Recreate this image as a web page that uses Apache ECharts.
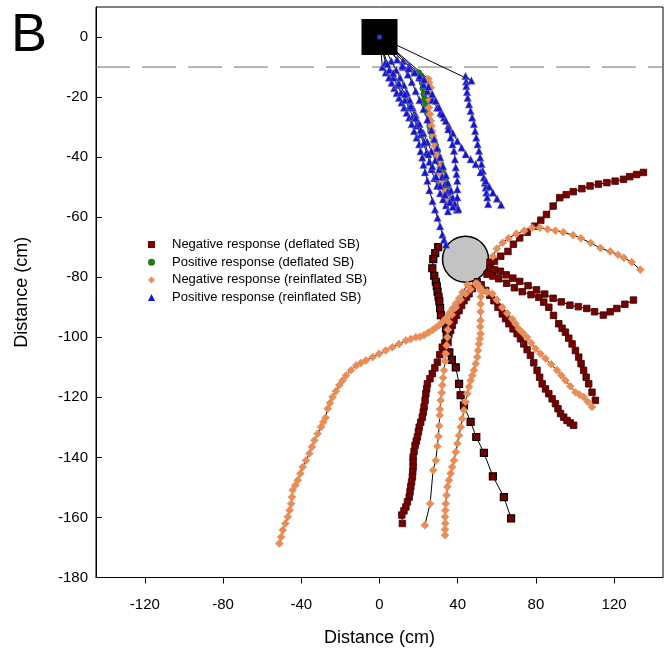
<!DOCTYPE html>
<html>
<head>
<meta charset="utf-8">
<script src="https://cdn.jsdelivr.net/npm/echarts@6/dist/echarts.min.js"></script>
<style>
html,body{margin:0;padding:0;background:#fff;}
#chart{width:666px;height:658px;}
</style>
</head>
<body>
<div id="chart"></div>
<script>
// ---- axis ticks ----
const xTicks = [-120, -80, -40, 0, 40, 80, 120];
const yTicks = [0, -20, -40, -60, -80, -100, -120, -140, -160, -180];

// ---- reference objects ----
const startBox = [[0, 0]];
const sphere = [[44, -74]];
const thresholdLine = [[-145, -10], [145, -10]];

// ---- Negative response (deflated SB) ----
const negDef1 = [[56.5,-75],[58.8,-74.7],[62,-73],[65.7,-71.4],[68.5,-69],[71.7,-66.9],[75.5,-65],[79.4,-63],[82.5,-61],[85.4,-59.1],[88.8,-56.3],[92.2,-53.5],[95.5,-52.5],[99.1,-51.5],[103.5,-50.5],[107.7,-49.6],[112,-49],[116.3,-48.5],[120.5,-48],[124.8,-47.4],[128,-46.5],[131.5,-45.8],[135,-45.1]];
const negDef2 = [[56.5,-77],[58.8,-77.5],[61.8,-78],[64.8,-79.2],[68.2,-80.3],[71.7,-81.4],[76,-82.8],[80.3,-84.2],[84.5,-85.6],[88.8,-87],[93,-88.2],[97.4,-89.3],[101.7,-89.8],[106,-90.4],[110,-91.5],[114.5,-92.6],[118,-91.5],[121.4,-90.4],[125.5,-89],[129.9,-87.6]];
const negDef3 = [[55,-79],[58,-79.6],[61,-80.5],[65,-82],[69,-83.5],[73,-84.8],[77.5,-85.8],[81.5,-86.7],[84,-88.3],[86.6,-90],[89,-92.7],[91.7,-95.5],[93.4,-97],[95.1,-98.3],[96.8,-100.3],[98.5,-102.2],[100.2,-104.4],[101.9,-106.6],[103.1,-108.8],[104.4,-111],[105.7,-113.3],[107,-115.5],[108.7,-118.3],[110.4,-121]];
const negDef4 = [[50,-81.5],[52,-82.5],[54.3,-84.4],[56.4,-86],[58.5,-87.8],[60.6,-90],[62.8,-92.2],[64.5,-93.8],[66.2,-95.5],[68.3,-97.2],[70.4,-98.8],[72.1,-100.5],[73.8,-102.2],[75.5,-104.1],[77.2,-106],[78.9,-108.5],[80.6,-111],[81.9,-113.3],[83.2,-115.5],[84.9,-117.2],[86.6,-118.8],[88.3,-120.5],[90,-122.1],[91.3,-123.8],[92.6,-125.4],[94.2,-126.6],[95.9,-127.7],[97.6,-128.5],[99.3,-129.3]];
const negDef5 = [[30,-70],[28.5,-72],[27.5,-74],[27,-77],[28,-79.5],[28.8,-81.5],[29.3,-83],[29.7,-84.8],[30.2,-86.5],[30.6,-88],[31,-90.3],[31.4,-92.6],[33,-95],[34,-97],[34.4,-99.3],[34.8,-101.6],[35.7,-105],[37,-107.5],[39,-110],[40.7,-115.5],[41.5,-119.3],[43.2,-122.7],[46.6,-128.2],[49.5,-133.2],[53.4,-138.5],[58,-146.3],[63.6,-153.2],[67.3,-160.3]];
const negDef6 = [[49.2,-82.2],[47.5,-83.8],[45.8,-85.5],[44.5,-86.6],[43.2,-87.8],[42,-89.4],[40.7,-91.1],[39.4,-92.7],[38.1,-94.4],[37.2,-96],[36.4,-97.7],[35.5,-99.1],[34.7,-100.5],[33.4,-101.9],[32.1,-103.3],[30.8,-105.8],[29.6,-108.3],[28.3,-110.2],[27,-112.1],[25.8,-113.8],[24.5,-115.5],[24.1,-117.2],[23.7,-118.8],[23.3,-121],[22.8,-123.2],[22.4,-124.9],[21.9,-126.6],[21.1,-128.3],[20.3,-129.9],[19.9,-131.5],[19.4,-133.2],[18.8,-134.6],[18.2,-136],[17.7,-138],[17.2,-139.9],[17.2,-141.5],[17.2,-143.2],[17,-144.8],[16.8,-146.5],[16.4,-148.2],[16,-149.8],[15.6,-151.5],[15.2,-153.2],[14.3,-154.8],[13.5,-156.5],[12.5,-157.8],[11.4,-159.2],[11.7,-162]];

// ---- Positive response (deflated SB) ----
const posDef1 = [[0,0],[20,-12],[21.1,-13],[21.5,-14.2],[21.9,-15.2],[22.3,-17.1],[22.8,-19],[23.2,-20.7],[23.7,-22.4],[24.5,-25.2],[25.4,-27.9],[25.8,-29.6],[26.2,-31.3],[27,-33],[27.9,-34.6],[28.8,-36.3],[29.6,-37.9],[30.4,-40.1],[31.3,-42.3],[32.1,-44.5],[33,-46.8],[33.4,-48.5],[33.9,-50.1],[34.3,-52]];

// ---- Negative response (reinflated SB) ----
const negRein1 = [[0,0],[25,-14],[25.4,-15.2],[26.2,-16.9],[25.8,-18.8],[25.6,-21],[25.4,-23.5],[25.8,-25.7],[26.2,-27.9],[26.6,-29.6],[27,-31.3],[27.4,-33],[27.9,-34.6],[28.4,-36.3],[28.8,-37.9],[29.6,-39.6],[30.5,-41.2],[30.9,-43.4],[31.3,-45.6],[32.1,-47.9],[33,-50.1],[33.4,-51.8],[33.9,-53.4],[34.3,-54.5],[34.7,-55.6]];
const negRein2 = [[45,-82.5],[42.5,-85],[40.8,-87],[39,-88.8],[37.4,-90.4],[35.7,-92],[34,-93.7],[32.3,-94.8],[30.6,-95.9],[28.8,-96.8],[27.1,-97.6],[25,-98.4],[22.8,-99.3],[20.7,-99.8],[18.6,-100],[16,-100.6],[13.5,-101.1],[10,-102.2],[6.6,-103.3],[3.2,-104.4],[-0.2,-105.5],[-3.5,-106.6],[-6.9,-107.7],[-9.5,-108.6],[-12,-109.4],[-14.6,-111],[-17.1,-112.7],[-18.9,-114.4],[-20.6,-116],[-22.3,-118],[-24,-119.9],[-25.3,-121.9],[-26.5,-123.8],[-27.6,-126.8],[-28.8,-128.3],[-29.9,-129.9],[-31.6,-132.1],[-33.3,-134.3],[-34.6,-136.5],[-35.9,-138.7],[-37.6,-141],[-39.3,-143.2],[-40.5,-145.4],[-41.8,-147.6],[-43.1,-149.3],[-44.4,-150.9],[-44.8,-153.2],[-45.2,-155.4],[-46,-157.6],[-46.9,-159.8],[-48.2,-162],[-49.5,-164.2],[-50.3,-166.5],[-51.2,-168.7]];
const negRein3 = [[50,-82.2],[51.2,-83.3],[51.7,-84.4],[51.8,-86.5],[51.7,-88.9],[51.7,-91.5],[51.7,-94.4],[51.5,-96.5],[51.7,-98.8],[51.3,-100.5],[50.9,-102.2],[50.4,-104.4],[50,-106.6],[49.2,-108.8],[48.3,-111],[47.4,-112.7],[46.6,-114.4],[45.8,-116.5],[44.9,-118.8],[44,-121.5],[43.2,-124.3],[42.3,-127.1],[41.5,-129.9],[40.7,-132.7],[39.8,-135.4],[39,-138.2],[38.1,-141],[37.2,-143.2],[36.4,-145.4],[35.5,-147.6],[34.7,-149.8],[34.3,-152.6],[33.9,-155.4],[33.7,-157.6],[33.5,-159.8],[33.6,-162],[33.5,-164],[33.5,-165.9]];
const negRein4 = [[49.2,-82.2],[46.5,-84],[44.1,-85.5],[41.5,-87.5],[39,-90],[37,-92.5],[35.5,-95],[35,-97.5],[34.7,-100],[34.3,-102.7],[33.9,-105.5],[33.5,-108],[33,-111],[32.5,-113.5],[32.1,-116],[31.8,-118.5],[31.3,-121],[30.9,-124],[30.8,-126],[30.5,-129.5],[30.1,-133],[29.6,-136.3],[28.8,-141],[27.4,-144.3],[25.9,-155.4],[23.2,-162.6]];
const negRein5 = [[49.2,-82.2],[50.9,-83.3],[52.6,-84.4],[55,-85],[57.7,-85.5],[60,-87.5],[62.8,-90],[65.3,-92],[67.9,-93.9],[69.6,-95.5],[71.3,-97.2],[73.4,-98.6],[75.5,-100],[77.6,-101.9],[79.8,-103.8],[82.3,-105.5],[84.9,-107.1],[87.8,-109],[90.8,-111],[93,-112.7],[95.1,-114.4],[97.6,-116.3],[100.2,-118.3],[102.3,-119.1],[104.4,-119.9],[106.5,-121.5],[108.7,-123.2]];
const negRein6 = [[58,-73],[60,-70.5],[63,-68.5],[66,-67],[70,-65.5],[74,-64.5],[78,-63.5],[82,-63.5],[86,-64],[90,-64.5],[94,-65],[99,-66],[103,-67],[108,-68.6],[113,-70.3],[118,-71.4],[122,-72.5],[125,-73.5],[129,-75],[133.4,-77.5]];

// ---- Positive response (reinflated SB) ----
const posRein1 = [[0,0],[47,-14.5],[44,-13],[44.3,-14.8],[44.4,-16.3],[44.8,-18.3],[45.1,-20.2],[45.8,-22.4],[46.6,-24.6],[47.4,-26.8],[48.3,-29],[48.9,-31.3],[49.5,-33.5],[50.2,-35.7],[50.9,-37.9],[51.5,-40.1],[52.2,-42.3],[52.8,-44.5],[53.4,-46.8],[53.9,-48.5],[54.3,-50.1],[54.7,-51.8],[55.1,-53.4],[55.6,-55.6]];
const posRein2 = [[0,0],[12,-8],[15.2,-9.6],[17.8,-11.5],[20.3,-13.5],[22.5,-15.8],[24.5,-18],[27,-21],[29.5,-23.5],[31.2,-25.2],[33,-26.8],[35.3,-29.5],[37.5,-32],[39.8,-34.6],[42,-36.8],[44.1,-39],[46.6,-40.7],[49.2,-42.3],[51.7,-45],[54.3,-47.9],[56.1,-49.8],[58,-51.8],[60.1,-53.8],[62.2,-55.9]];
const posRein3 = [[0,0],[1.5,-10],[3.2,-11.8],[4.9,-13.5],[6.2,-15.2],[7.5,-17],[8.8,-18.6],[10,-20.2],[11.3,-21.8],[12.6,-23.5],[13.9,-25.2],[15.2,-26.8],[16.5,-29],[17.7,-31.3],[19,-33.5],[20.3,-35.7],[21,-38],[21.9,-40.1],[22.5,-42.5],[23.3,-45],[24.5,-47.9],[25.5,-51],[27.1,-54.6],[28.4,-57.4],[29.7,-60.2],[31,-63],[32.2,-65.8],[33,-67.5],[34,-69.1]];
const posRein4 = [[0,0],[3,-8.5],[5,-11],[7,-13.5],[9,-16],[11,-18.5],[13,-21],[15,-23.5],[17,-26.5],[19,-29.5],[21,-32.5],[22.5,-35.5],[24,-38.5],[25.5,-41.5],[26.5,-44],[28,-47],[29.5,-49.5],[31,-52],[32.5,-54],[34,-56],[35,-58]];
const posRein5 = [[0,0],[6,-8],[8.5,-11],[10.5,-13.5],[12.5,-16],[14,-18.5],[15.5,-21],[17,-23.5],[18.5,-26],[20.5,-29],[22.5,-32],[24.5,-35],[26.5,-38],[28.5,-41],[30.5,-44],[32,-46.5],[33.5,-49],[35,-51.5],[36.5,-54],[38,-56],[39.5,-57.5]];
const posRein6 = [[0,0],[9,-7.5],[12,-10],[14.5,-12.5],[16.5,-15],[18.5,-18],[20.5,-21],[22.5,-24],[24.5,-27.5],[26.5,-31],[28,-34],[29.5,-37],[31,-40],[32.5,-43],[34,-46],[35,-48.5],[36.5,-51],[37.5,-53.5],[38.5,-55.5],[40,-57]];
const posRein7 = [[0,0],[11.7,-9.6],[15,-10.5],[18,-11.8],[20.5,-13],[22.8,-14.1],[25,-16.5],[27,-19],[28.8,-21.2],[30.5,-23.5],[32.2,-25.7],[33.9,-27.9],[35.2,-30.7],[36.4,-33.5],[37.3,-35.7],[38.1,-37.9],[38.6,-40.7],[39,-43.4],[39.4,-45.6],[39.8,-47.9],[39.8,-50.7],[39.8,-53.4],[40.3,-57.3]];
const posRein8 = [[0,0],[4,-9],[7,-12],[10,-15.5],[13,-19],[16,-23],[18.5,-27],[21,-31],[23,-35],[25,-39],[27,-43],[29,-46.5],[31,-49.5],[33.5,-52.5],[36,-55],[37.5,-56.5]];

const seriesNames = [
  'Negative response (deflated SB)',
  'Positive response (deflated SB)',
  'Negative response (reinflated SB)',
  'Positive response (reinflated SB)'
];

const FONT = 'Liberation Sans, Arial, sans-serif';

function track(name, data, symbol, size, color, border, borderW) {
  return {
    type: 'line', name: name, data: data,
    symbol: symbol, symbolSize: size, showAllSymbol: true,
    lineStyle: { color: '#000', width: 1, opacity: 1 },
    itemStyle: { color: color, borderColor: border, borderWidth: borderW, opacity: 1 },
    emphasis: { disabled: true }, silent: true, animation: false, z: 3
  };
}

const DR = '#7a0000', GR = '#1d7d1d', OR = '#f4894b', BL = '#1414d8';

const series = [
  { type: 'line', name: 'threshold', data: thresholdLine, symbol: 'none', silent: true,
    lineStyle: { color: '#6e6e6e', width: 1, type: [34, 12] }, z: 1 },
  { type: 'scatter', name: 'sphere', data: sphere, symbol: 'circle', symbolSize: 46, silent: true,
    itemStyle: { color: '#c3c3c3', borderColor: '#000', borderWidth: 1.5, opacity: 1 }, z: 2 }
];
[negDef1, negDef2, negDef3, negDef4, negDef6].forEach(d => series.push(track(seriesNames[0], d, 'rect', 6.5, DR, '#3a0000', 0.8)));
series.push(track(seriesNames[0], negDef5, 'rect', 7, DR, '#000', 1.2));
[posDef1].forEach(d => series.push(track(seriesNames[1], d, 'circle', 6.5, GR, '#0c4d0c', 0.5)));
[negRein1, negRein2, negRein3, negRein4, negRein5, negRein6].forEach(d => series.push(track(seriesNames[2], d, 'diamond', 8, OR, '#b9a58f', 0.6)));
[posRein1, posRein2, posRein3, posRein4, posRein5, posRein6, posRein7, posRein8].forEach(d => series.push(track(seriesNames[3], d, 'triangle', 7.5, BL, '#8080a0', 0.5)));
series.push({ type: 'scatter', name: 'start', data: startBox, symbol: 'rect', symbolSize: 36, silent: true,
  itemStyle: { color: '#000', opacity: 1 }, z: 5 });
series.push({ type: 'scatter', name: 'startDot', data: startBox, symbol: 'circle', symbolSize: 5, silent: true,
  itemStyle: { color: '#2040e0', borderColor: '#103060', borderWidth: 0.5, opacity: 1 }, z: 6 });

const chart = echarts.init(document.getElementById('chart'), null, { renderer: 'canvas' });
chart.setOption({
  animation: false,
  backgroundColor: '#fff',
  textStyle: { fontFamily: FONT },
  graphic: [{ type: 'text', left: 11, top: 9, style: { text: 'B', font: '54px ' + FONT, fill: '#000' } }],
  legend: {
    left: 143, top: 233, orient: 'vertical', itemGap: 4.7, itemWidth: 7, itemHeight: 7,
    selectedMode: false,
    itemStyle: { borderWidth: 0, opacity: 1 },
    textStyle: { fontFamily: FONT, fontSize: 13, color: '#000', padding: [0, 0, 0, 12] },
    data: [
      { name: seriesNames[0], icon: 'rect' },
      { name: seriesNames[1], icon: 'circle' },
      { name: seriesNames[2], icon: 'diamond' },
      { name: seriesNames[3], icon: 'triangle' }
    ]
  },
  grid: { left: 96, right: 3, top: 7, bottom: 80.5, containLabel: false, outerBoundsMode: 'none',
    show: true, borderColor: '#000', borderWidth: 1, backgroundColor: 'transparent' },
  xAxis: {
    type: 'value', min: -145, max: 145,
    name: 'Distance (cm)', nameLocation: 'middle', nameGap: 52,
    nameTextStyle: { fontFamily: FONT, fontSize: 18, color: '#000' },
    axisLine: { show: true, onZero: false, lineStyle: { color: '#000', width: 1 } },
    axisTick: { show: true, inside: false, length: 6, customValues: xTicks, lineStyle: { color: '#000' } },
    axisLabel: { customValues: xTicks, margin: 20, fontFamily: FONT, fontSize: 15, color: '#000' },
    splitLine: { show: false }
  },
  yAxis: {
    type: 'value', min: -180, max: 10,
    name: 'Distance (cm)', nameLocation: 'middle', nameGap: 65,
    nameTextStyle: { fontFamily: FONT, fontSize: 18, color: '#000' },
    axisLine: { show: true, onZero: false, lineStyle: { color: '#000', width: 1 } },
    axisTick: { show: true, inside: true, length: 6, customValues: yTicks, lineStyle: { color: '#000' } },
    axisLabel: { customValues: yTicks, margin: 8, fontFamily: FONT, fontSize: 15, color: '#000' },
    splitLine: { show: false }
  },
  series: series
});
</script>
</body>
</html>
